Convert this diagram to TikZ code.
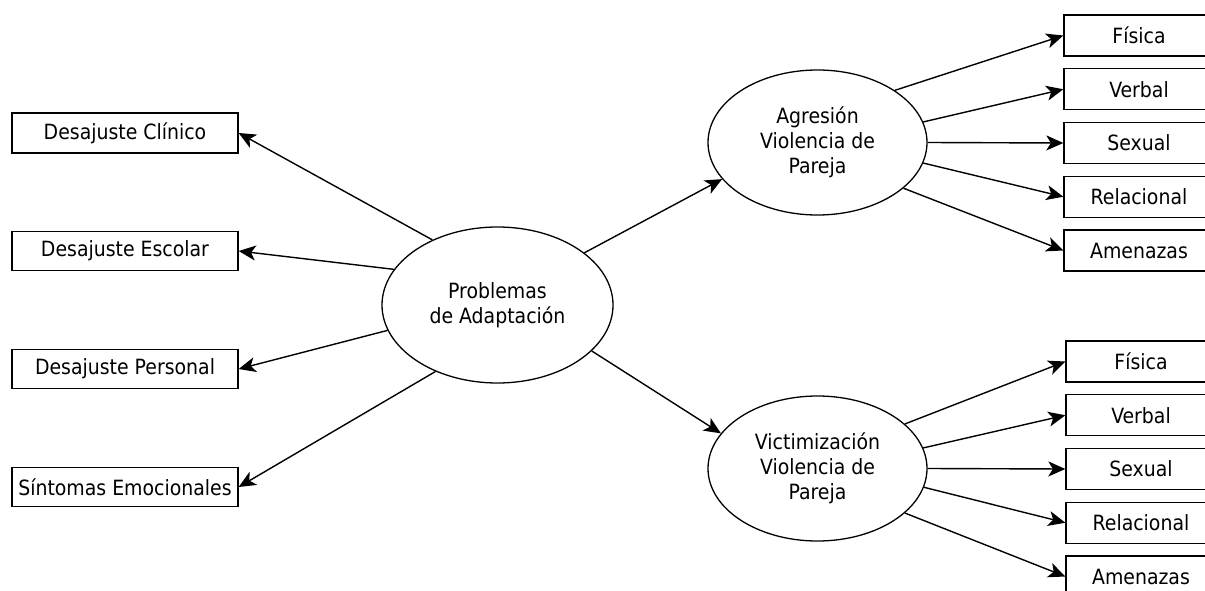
\documentclass[tikz,border=0pt]{standalone}
\usepackage{fontspec}
\setmainfont{DejaVu Sans Condensed}
\usetikzlibrary{shapes.geometric}
\usetikzlibrary{arrows.meta}
\usetikzlibrary{positioning}

\begin{document}
\begin{tikzpicture}[x=1pt,y=-1pt,
    caja/.style={draw,line width=1.3pt,minimum width=226pt,minimum height=39pt,inner sep=0pt},
    cajader/.style={draw,line width=1.3pt,minimum width=150pt,minimum height=41pt,inner sep=0pt},
    elipse/.style={draw,ellipse,line width=1.3pt,inner sep=0pt,align=center},
    flecha/.style={-{Stealth[length=17pt,width=15pt,inset=4.5pt]},line width=1.4pt},
    font=\fontsize{21}{25}\selectfont]
  \useasboundingbox (0,0) rectangle (1205,591);
  % latent constructs
  \node[elipse,minimum width=231pt,minimum height=156pt] (P) at (497.5,305) {Problemas\\de Adaptación};
  \node[elipse,minimum width=219pt,minimum height=145pt] (A) at (817.5,142.5) {Agresión\\Violencia de\\Pareja};
  \node[elipse,minimum width=219pt,minimum height=145pt] (V) at (817.5,468.5) {Victimización\\Violencia de\\Pareja};
  % left indicators
  \node[caja,minimum height=40pt] (clin) at (125,133) {Desajuste Clínico};
  \node[caja] (esc) at (125,251) {Desajuste Escolar};
  \node[caja] (pers) at (125,369) {Desajuste Personal};
  \node[caja] (emo) at (125,487) {Síntomas Emocionales};
  \draw[flecha] (P.135) -- (clin.east);
  \draw[flecha] (P.161) -- (esc.east);
  \draw[flecha] (P.193) -- (pers.east);
  \draw[flecha] (P.227) -- (emo.east);
  \draw[flecha] (P.31) -- (A.201);
  \draw[flecha] (P.-26) -- (V.160);
  % right indicators
  \foreach \texto/\angA/\angV [count=\i from 0] in
      {Física/34/27.5, Verbal/11/11, Sexual/0/0, Relacional/-11/-10, Amenazas/-28/-27.5}
  {
    \node[cajader] (a\i) at (1139,{35.5+53.75*\i}) {\texto};
    \node[cajader] (v\i) at (1141,{361.5+53.75*\i}) {\texto};
    \draw[flecha] (A.\angA) -- (a\i.west);
    \draw[flecha] (V.\angV) -- (v\i.west);
  }
\end{tikzpicture}
\end{document}
